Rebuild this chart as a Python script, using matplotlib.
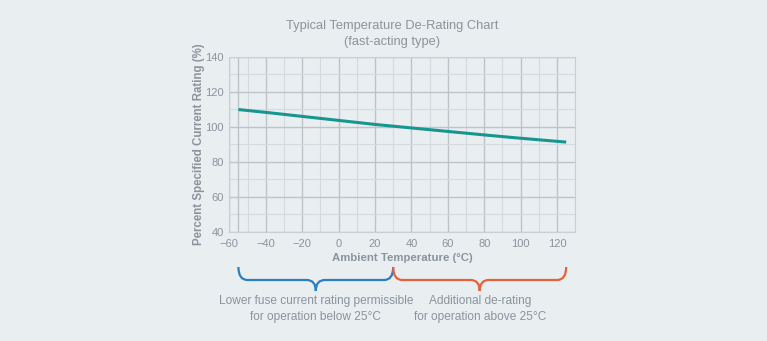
import numpy as np
import matplotlib.pyplot as plt
from matplotlib.path import Path
from matplotlib.patches import PathPatch
from matplotlib.transforms import blended_transform_factory

plt.rcParams['font.family'] = ['Liberation Sans', 'DejaVu Sans']

# de-rating curve
temps = [-55, -40, -20, 0, 20, 40, 60, 80, 100, 125]
rating = [109.8, 108.2, 105.9, 103.6, 101.3, 99.3, 97.3, 95.3, 93.4, 91.2]

x_ticks = [-60, -40, -20, 0, 20, 40, 60, 80, 100, 120]
y_ticks = [40, 60, 80, 100, 120, 140]

# braces below the axis: (start, end, colour, text)
braces = [
    (-55, 30, '#2a7fc0', 'Lower fuse current rating permissible\nfor operation below 25°C'),
    (30, 125, '#e8603c', 'Additional de-rating\nfor operation above 25°C'),
]

BG = '#e9eef1'
TXT = '#8a949c'
GRID = '#c9d0d5'

fig = plt.figure(figsize=(7.67, 3.41), dpi=100, facecolor=BG)
W, H = 767, 341
ax = fig.add_axes([229.3 / W, 1 - 231.7 / H, (575.3 - 229.3) / W, (231.7 - 56.7) / H])
ax.set_facecolor(BG)

ax.plot(temps, rating, color='#17958f', lw=2.2, solid_capstyle='butt', zorder=3)

ax.set_xlim(-60, 130)
ax.set_ylim(40, 140)
ax.set_xticks(x_ticks)
ax.set_yticks(y_ticks)
ax.set_xticks(np.arange(-50, 131, 10), minor=True)
ax.set_yticks(np.arange(50, 141, 10), minor=True)
ax.grid(which='major', color='#bcc4ca', lw=1.0)
ax.grid(which='minor', color='#d4dadf', lw=0.8)
ax.axvline(-55, color='#bcc4ca', lw=1.0)
ax.tick_params(which='both', length=0, labelsize=8, labelcolor=TXT)
ax.tick_params(axis='x', pad=5)
ax.tick_params(axis='y', pad=4)
for s in ax.spines.values():
    s.set_color(GRID)
    s.set_linewidth(0.8)

ax.set_xlabel('Ambient Temperature (°C)', fontsize=8.2, fontweight='bold', color=TXT, labelpad=3)
ax.set_ylabel('Percent Specified Current Rating (%)', fontsize=8.3, fontweight='bold', color=TXT, labelpad=0)

fig.text(392 / W, 1 - 34 / H, 'Typical Temperature De-Rating Chart\n(fast-acting type)',
         ha='center', va='center', fontsize=9.3, color=TXT, linespacing=1.55)

# curly braces, x in data units, y in figure pixels
tr = blended_transform_factory(ax.transData, fig.transFigure)
def fy(py):
    return 1 - py / H

y_top, y_mid, y_tip, d = 267, 280, 291, 5
for x0, x1, col, label in braces:
    xm = (x0 + x1) / 2
    verts = [(x0, fy(y_top)),
             (x0, fy(y_mid)), (x0 + d, fy(y_mid)),
             (xm - d, fy(y_mid)),
             (xm, fy(y_mid)), (xm, fy(y_tip)),
             (xm, fy(y_mid)), (xm + d, fy(y_mid)),
             (x1 - d, fy(y_mid)),
             (x1, fy(y_mid)), (x1, fy(y_top))]
    codes = [Path.MOVETO, Path.CURVE3, Path.CURVE3, Path.LINETO,
             Path.CURVE3, Path.CURVE3, Path.CURVE3, Path.CURVE3,
             Path.LINETO, Path.CURVE3, Path.CURVE3]
    fig.add_artist(PathPatch(Path(verts, codes), transform=tr, fill=False,
                             edgecolor=col, lw=1.6, clip_on=False))
    fig.text(xm, fy(309), label, transform=tr, ha='center', va='center',
             fontsize=8.6, color=TXT, linespacing=1.35)

fig.savefig('out.png', dpi=100, facecolor=BG)
